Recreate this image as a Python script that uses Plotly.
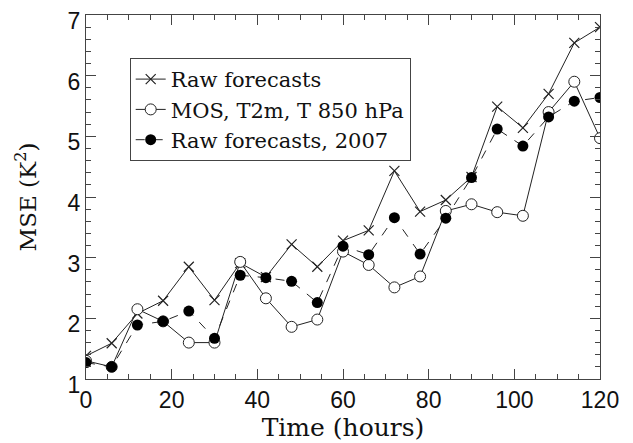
import plotly.graph_objects as go

hours = [0, 6, 12, 18, 24, 30, 36, 42, 48, 54, 60, 66, 72, 78, 84, 90, 96, 102, 108, 114, 120]
raw = [1.38, 1.59, 2.08, 2.29, 2.85, 2.30, 2.91, 2.68, 3.22, 2.85, 3.28, 3.45, 4.43, 3.76, 3.95, 4.33,
       5.49, 5.14, 5.70, 6.54, 6.80]
mos = [1.30, 1.20, 2.15, 1.95, 1.60, 1.60, 2.93, 2.33, 1.86, 1.98, 3.10, 2.88, 2.51, 2.69, 3.77, 3.88,
       3.75, 3.69, 5.40, 5.90, 4.97]
raw2007 = [1.27, 1.20, 1.89, 1.95, 2.12, 1.67, 2.71, 2.67, 2.61, 2.26, 3.19, 3.05, 3.66, 3.06, 3.65, 4.32,
           5.12, 4.84, 5.32, 5.58, 5.64]

names = ["Raw forecasts", "MOS, T2m, T 850 hPa", "Raw forecasts, 2007"]
ink = "#222222"

fig = go.Figure()
fig.add_trace(go.Scatter(
    x=hours, y=raw, name=names[0], mode="lines+markers",
    line=dict(color=ink, width=1),
    marker=dict(symbol="x-thin", size=10, line=dict(color=ink, width=1.2), color=ink)))
fig.add_trace(go.Scatter(
    x=hours, y=mos, name=names[1], mode="lines+markers",
    line=dict(color=ink, width=1),
    marker=dict(symbol="circle", size=11, color="white", line=dict(color=ink, width=1))))
fig.add_trace(go.Scatter(
    x=hours, y=raw2007, name=names[2], mode="lines+markers",
    line=dict(color=ink, width=1, dash="dash"),
    marker=dict(symbol="circle", size=11, color="black", line=dict(color="black", width=0))))

tickfont = dict(family="Liberation Sans, Arial, sans-serif", size=23, color="#111")
xtitlefont = dict(family="DejaVu Serif, serif", size=25, color="#111")
ytitlefont = dict(family="DejaVu Serif, serif", size=23, color="#111")

fig.update_layout(
    width=625, height=435,
    margin=dict(l=78, r=33, t=7, b=64),
    paper_bgcolor="white", plot_bgcolor="white",
    showlegend=True,
    legend=dict(
        x=0.085, y=0.882, xanchor="left", yanchor="top",
        bordercolor="#444", borderwidth=1, bgcolor="white",
        font=dict(family="DejaVu Serif, serif", size=21, color="#111"),
        tracegroupgap=0, itemwidth=30),
    xaxis=dict(
        range=[0, 120], dtick=20, tick0=0, automargin=False,
        ticks="inside", ticklen=10, tickcolor="#444", tickwidth=1,
        showline=True, linecolor="#444", linewidth=1, mirror="allticks",
        showgrid=False, zeroline=False, ticklabeloverflow="allow",
        tickfont=tickfont,
        minor=dict(ticks="inside", dtick=5, ticklen=5, tickcolor="#444", showgrid=False),
        title=dict(text="Time (hours)", font=xtitlefont, standoff=0)),
    yaxis=dict(
        range=[1, 7], dtick=1, tick0=1, automargin=False,
        ticks="inside", ticklen=10, tickcolor="#444", tickwidth=1,
        showline=True, linecolor="#444", linewidth=1, mirror="allticks",
        showgrid=False, zeroline=False, ticklabeloverflow="allow",
        ticklabelshift=6,
        tickfont=tickfont,
        minor=dict(ticks="inside", dtick=0.2, ticklen=5, tickcolor="#444", showgrid=False),
        title=dict(text="MSE (K<sup>2</sup>)", font=ytitlefont, standoff=24)),
)

fig.write_html("out.html")
